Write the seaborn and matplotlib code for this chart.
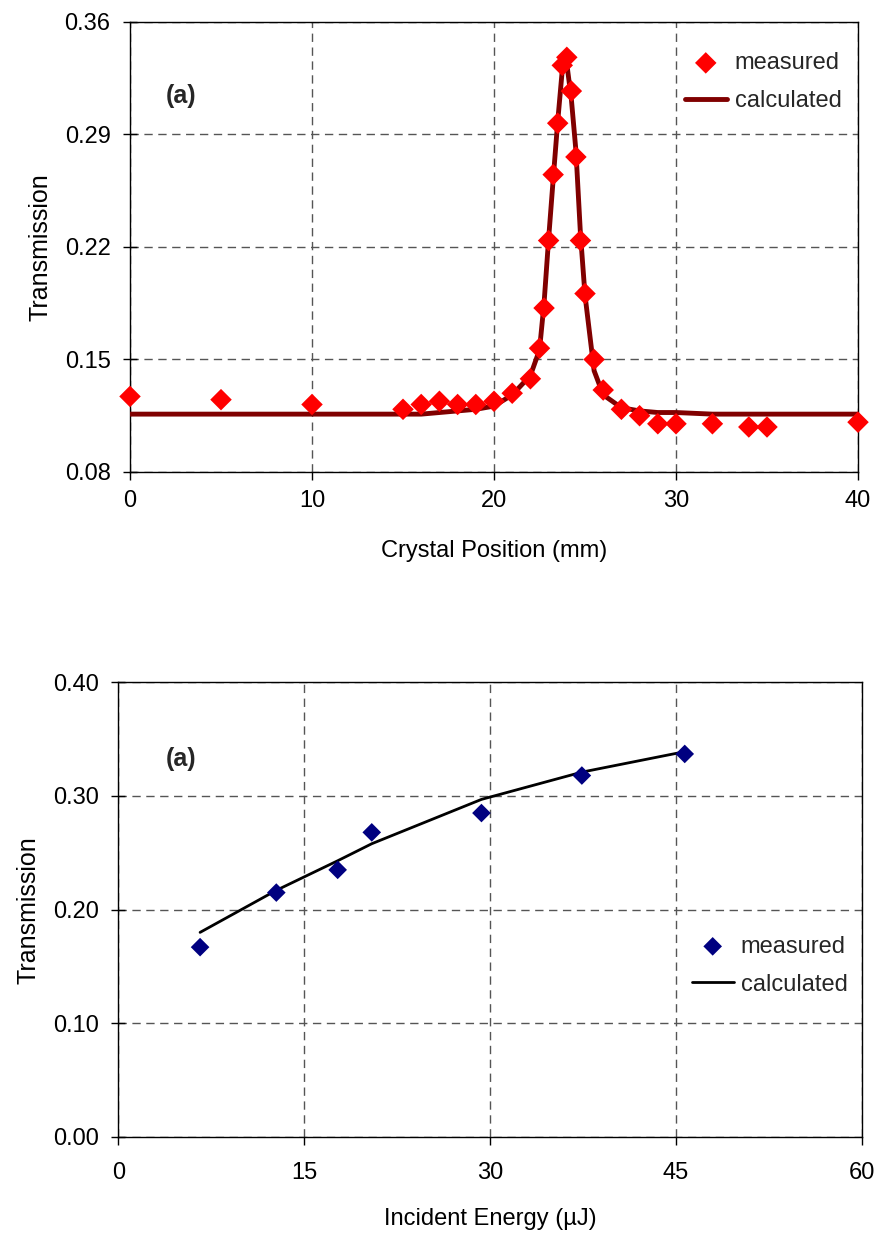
import matplotlib
matplotlib.use("Agg")
import matplotlib.pyplot as plt
import seaborn as sns
import numpy as np
import pandas as pd
from matplotlib.ticker import FormatStrFormatter

# ---- Data: top panel (crystal position scan) ----
pos_measured_x = [0, 5, 10, 15, 16, 17, 18, 19, 20, 21, 22, 22.5, 22.75, 23, 23.25, 23.5,
                  23.75, 24, 24.25, 24.5, 24.75, 25, 25.5, 26, 27, 28, 29, 30, 32, 34, 35, 40]
pos_measured_y = [0.127, 0.125, 0.122, 0.119, 0.122, 0.124, 0.122, 0.122, 0.124, 0.129, 0.138,
                  0.157, 0.182, 0.224, 0.265, 0.297, 0.333, 0.338, 0.317, 0.276, 0.224, 0.191,
                  0.150, 0.131, 0.119, 0.115, 0.110, 0.110, 0.110, 0.108, 0.108, 0.111]
pos_calc_x = [0, 5, 10, 15, 16, 17, 18, 19, 20, 21, 22, 22.5, 22.75, 23, 23.25, 23.5,
              23.75, 24, 24.25, 24.5, 24.75, 25, 25.5, 26, 27, 28, 29, 30, 32, 34, 35, 40]
pos_calc_y = [0.116, 0.116, 0.116, 0.116, 0.116, 0.117, 0.118, 0.119, 0.121, 0.128, 0.140,
              0.156, 0.185, 0.225, 0.262, 0.298, 0.330, 0.334, 0.312, 0.280, 0.228, 0.190,
              0.143, 0.128, 0.120, 0.118, 0.117, 0.117, 0.116, 0.116, 0.116, 0.116]
pos_xticks = [0, 10, 20, 30, 40]
pos_yticks = [0.08, 0.15, 0.22, 0.29, 0.36]

# ---- Data: bottom panel (incident energy) ----
en_measured_x = [6.6, 12.75, 17.7, 20.45, 29.3, 37.4, 45.7]
en_measured_y = [0.167, 0.215, 0.235, 0.268, 0.285, 0.318, 0.337]
en_calc_x = [6.6, 12.75, 17.7, 20.45, 29.3, 37.4, 45.7]
en_calc_y = [0.180, 0.217, 0.243, 0.258, 0.297, 0.321, 0.339]
en_xticks = [0, 15, 30, 45, 60]
en_yticks = [0.00, 0.10, 0.20, 0.30, 0.40]

sns.set_theme(style="ticks")
plt.rcParams['font.family'] = ['Liberation Sans', 'DejaVu Sans']
plt.rcParams['axes.linewidth'] = 1.0
plt.rcParams['axes.edgecolor'] = 'black'

FS = 17

fig = plt.figure(figsize=(8.82, 12.33), dpi=100)
ax1 = fig.add_axes([0.1474, 0.6172, 0.9728 - 0.1474, 0.9822 - 0.6172])
ax2 = fig.add_axes([0.1341, 0.0779, 0.9773 - 0.1341, 0.4466 - 0.0779])

df1m = pd.DataFrame({"x": pos_measured_x, "y": pos_measured_y})
df1c = pd.DataFrame({"x": pos_calc_x, "y": pos_calc_y})
df2m = pd.DataFrame({"x": en_measured_x, "y": en_measured_y})
df2c = pd.DataFrame({"x": en_calc_x, "y": en_calc_y})


def style_axes(ax, xticks, yticks, xlabel, xlim, ylim, xpad, xlabelpad, ylabelpad):
    ax.set_xlim(*xlim)
    ax.set_ylim(*ylim)
    ax.set_xticks(xticks)
    ax.set_yticks(yticks)
    ax.yaxis.set_major_formatter(FormatStrFormatter('%.2f'))
    ax.grid(True, which='major', linestyle=(0, (6, 4)), color='#555555', linewidth=1.0)
    ax.set_axisbelow(True)
    for s in ax.spines.values():
        s.set_visible(True)
        s.set_color('black')
        s.set_linewidth(1.0)
    ax.tick_params(axis='x', direction='out', length=6, width=1, labelsize=FS, pad=xpad, colors='black')
    ax.tick_params(axis='y', direction='inout', length=10, width=1, labelsize=FS, pad=9, colors='black')
    ax.set_xlabel(xlabel, fontsize=FS, labelpad=xlabelpad, color='black')
    ax.set_ylabel("Transmission", fontsize=FS + 1, labelpad=ylabelpad, color='black')


# Top panel
sns.lineplot(data=df1c, x="x", y="y", ax=ax1, color='#800000', linewidth=3.5,
             label='calculated', sort=False, zorder=3)
sns.scatterplot(data=df1m, x="x", y="y", ax=ax1, color='#ff0000', marker='D', s=120,
                edgecolor='none', label='measured', zorder=4, clip_on=False)
style_axes(ax1, pos_xticks, pos_yticks, "Crystal Position (mm)", (0, 40), (0.08, 0.36), 7, 20, 9)
h, l = ax1.get_legend_handles_labels()
order = [l.index('measured'), l.index('calculated')]
ax1.legend([h[i] for i in order], [l[i] for i in order], loc='upper left',
           bbox_to_anchor=(0.762, 0.933), frameon=False, fontsize=FS, handlelength=1.78,
           handletextpad=0.34, labelspacing=0.68, borderaxespad=0.0, borderpad=0.0)
ax1.text(0.049, 0.82, "(a)", transform=ax1.transAxes, fontsize=FS + 1, fontweight='bold')

# Bottom panel
sns.lineplot(data=df2c, x="x", y="y", ax=ax2, color='black', linewidth=2.0,
             label='calculated', sort=False, zorder=3)
sns.scatterplot(data=df2m, x="x", y="y", ax=ax2, color='#000080', marker='D', s=90,
                edgecolor='none', label='measured', zorder=4)
style_axes(ax2, en_xticks, en_yticks, "Incident Energy (µJ)", (0, 60), (0.0, 0.40), 12, 17, 9)
h, l = ax2.get_legend_handles_labels()
order = [l.index('measured'), l.index('calculated')]
ax2.legend([h[i] for i in order], [l[i] for i in order], loc='upper left',
           bbox_to_anchor=(0.771, 0.443), frameon=False, fontsize=FS, handlelength=1.78,
           handletextpad=0.3, labelspacing=0.68, borderaxespad=0.0, borderpad=0.0)
ax2.text(0.064, 0.815, "(a)", transform=ax2.transAxes, fontsize=FS + 1, fontweight='bold')

fig.savefig("out.png", dpi=100)
